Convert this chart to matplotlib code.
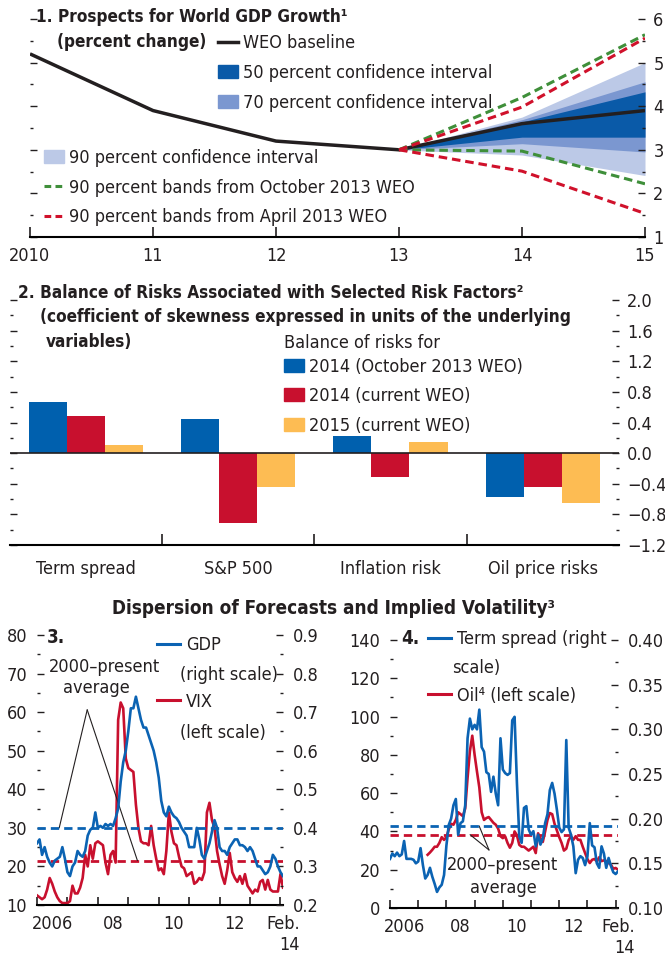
import numpy as np
import matplotlib
matplotlib.use("Agg")
import matplotlib.pyplot as plt
from matplotlib import font_manager
from matplotlib.lines import Line2D
from matplotlib.patches import Patch
from matplotlib.ticker import MultipleLocator

# %% fonts: narrow sans if there is one
installed = {f.name for f in font_manager.fontManager.ttflist}
base_font = 'Liberation Sans Narrow' if 'Liberation Sans Narrow' in installed else 'DejaVu Sans'
plt.rcParams['font.family'] = [base_font, 'DejaVu Sans']
if base_font == 'DejaVu Sans':
    plt.rcParams['font.stretch'] = 'condensed'
plt.rcParams['font.size'] = 13
ink = '#231f20'
plt.rcParams['text.color'] = ink
plt.rcParams['xtick.color'] = ink
plt.rcParams['ytick.color'] = ink
title_size = 12.3

# %% data, panel 1
gdp_years = [2010, 2011, 2012, 2013, 2014, 2015]
year_labels = ['2010', '11', '12', '13', '14', '15']
weo_baseline = [5.2, 3.9, 3.2, 3.0, 3.6, 3.9]
fan_years = [2013, 2014, 2015]
ci50_lo = [3.0, 3.29, 3.29]
ci50_hi = [3.0, 3.64, 4.33]
ci70_lo = [3.0, 3.14, 2.95]
ci70_hi = [3.0, 3.69, 4.56]
ci90_lo = [3.0, 2.88, 2.41]
ci90_hi = [3.0, 3.75, 5.0]
oct13_lo = [3.0, 2.97, 2.22]
oct13_hi = [3.0, 4.2, 5.64]
apr13_lo = [3.0, 2.51, 1.54]
apr13_hi = [3.0, 3.98, 5.56]

# %% data, panel 2
risk_factors = ['Term spread', 'S&P 500', 'Inflation risk', 'Oil price risks']
risk_2014_oct13 = [0.67, 0.45, 0.22, -0.57]
risk_2014_now = [0.49, -0.91, -0.31, -0.44]
risk_2015_now = [0.11, -0.44, 0.14, -0.65]

# %% data, panels 3 and 4 (monthly, Jan 2006 - Feb 2014)
n_months = 98
months = 2006 + np.arange(n_months) / 12.0
vix = [12.5, 12, 11.5, 12, 14, 17, 15.5, 13.5, 12, 11, 10.5, 10.5,
       10.5, 11, 15, 13, 13, 14.5, 17, 23, 20, 25.5, 22, 26,
       26.5, 26, 25.5, 21, 18, 23, 24, 21, 58, 62.5, 61, 48,
       45.5, 45, 44.5, 36, 30, 26.5, 26, 26, 25.5, 30.5, 25.5, 22,
       19, 19.5, 18, 24, 34, 29, 26, 25.5, 22.5, 20, 19.5, 17.5,
       18, 18.5, 15.5, 16, 17, 16.5, 18.5, 34, 36.5, 32, 30, 24,
       20.5, 17.5, 15.5, 19, 23.5, 18.5, 17, 16, 17.5, 15.5, 18, 15,
       14, 13, 14, 13.5, 16, 16.5, 14, 16.5, 14, 13.5, 13.5, 13.5,
       18, 14.5]
gdp_disp = [0.36, 0.37, 0.33, 0.35, 0.325, 0.31, 0.30, 0.315, 0.32, 0.325, 0.35, 0.32,
            0.285, 0.275, 0.30, 0.31, 0.34, 0.33, 0.325, 0.34, 0.38, 0.395, 0.40, 0.44,
            0.40, 0.405, 0.40, 0.41, 0.405, 0.41, 0.405, 0.425, 0.45, 0.52, 0.57, 0.60,
            0.65, 0.71, 0.71, 0.74, 0.71, 0.68, 0.66, 0.66, 0.64, 0.62, 0.60, 0.57,
            0.53, 0.47, 0.44, 0.43, 0.455, 0.44, 0.43, 0.425, 0.415, 0.40, 0.39, 0.38,
            0.35, 0.35, 0.35, 0.40, 0.37, 0.33, 0.32, 0.34, 0.36, 0.39, 0.42, 0.40,
            0.35, 0.34, 0.34, 0.33, 0.35, 0.36, 0.37, 0.37, 0.355, 0.355, 0.35, 0.34,
            0.35, 0.34, 0.32, 0.30, 0.30, 0.29, 0.28, 0.285, 0.30, 0.33, 0.32, 0.30,
            0.285, 0.275]
vix_avg = 21.5
gdp_avg = 0.40

term_spread = [0.155, 0.161, 0.158, 0.162, 0.158, 0.16, 0.175, 0.155, 0.155, 0.155, 0.154, 0.15,
               0.152, 0.167, 0.148, 0.133, 0.137, 0.145, 0.135, 0.127, 0.118, 0.123, 0.126, 0.137,
               0.17, 0.193, 0.20, 0.215, 0.222, 0.182, 0.195, 0.197, 0.215, 0.29, 0.312, 0.30,
               0.305, 0.30, 0.322, 0.28, 0.275, 0.252, 0.25, 0.23, 0.247, 0.228, 0.215, 0.29,
               0.255, 0.251, 0.249, 0.251, 0.31, 0.314, 0.24, 0.18, 0.173, 0.212, 0.214, 0.188,
               0.182, 0.186, 0.169, 0.182, 0.171, 0.178, 0.195, 0.205, 0.232, 0.24, 0.228, 0.21,
               0.19, 0.185, 0.188, 0.288, 0.19, 0.182, 0.169, 0.139, 0.154, 0.158, 0.156, 0.148,
               0.158, 0.195, 0.17, 0.168, 0.15, 0.145, 0.169, 0.161, 0.145, 0.156, 0.147, 0.14,
               0.138, 0.141]
oil_start = 16  # oil series begins May 2007
oil = [27.8, 29, 30.4, 32, 32, 34, 37, 35.6, 37, 41, 44, 43.5, 46, 50, 49, 48,
       52, 68, 82, 90, 80, 71.3, 63, 50, 46, 47, 47.5, 46, 44.5, 43.5, 41.5, 37.5,
       36.5, 37.4, 34, 31.5, 34, 40, 38, 33, 32, 32, 31, 30, 31, 32, 28.7, 39,
       36.5, 34.5, 40, 46, 49.6, 49, 44, 40.5, 37, 34, 30, 31, 35.5, 37.4, 35.6, 37.5,
       35.6, 35.6, 32, 28.7, 25.5, 23.5, 25.2, 25.6, 24.3, 26.5, 24.5, 24.9, 24.5, 23.5,
       22.6, 20.5, 20.9, 20]
term_avg = 0.192
oil_avg = 38.3

# %% colours
c50, c70, c90 = '#0a5aa8', '#7b97d0', '#bcc9e7'
green, red = '#3f8f3a', '#d0112b'
bar_blue, bar_red, bar_yel = '#0060ae', '#c8102e', '#fdbc53'
line_blue, line_red = '#0b63b3', '#c8102e'

W, H = 665, 963


def fx(px):
    return px / W


def fy(py):
    return 1 - py / H


def y_ticks_both(ax, major, minor, label_right=True):
    ax.yaxis.set_major_locator(MultipleLocator(major))
    ax.yaxis.set_minor_locator(MultipleLocator(minor))
    ax.tick_params(axis='y', which='both', direction='in', left=True, right=True,
                   labelleft=not label_right, labelright=label_right, width=1)
    ax.tick_params(axis='y', which='major', length=5, pad=6)
    ax.tick_params(axis='y', which='minor', length=2.5)


fig = plt.figure(figsize=(W / 100, H / 100), dpi=100)

# %% panel 1
ax1 = fig.add_axes([fx(30), fy(237), (645 - 30) / W, (237 - 19) / H])
ax1.fill_between(fan_years, ci90_lo, ci90_hi, color=c90, lw=0)
ax1.fill_between(fan_years, ci70_lo, ci70_hi, color=c70, lw=0)
ax1.fill_between(fan_years, ci50_lo, ci50_hi, color=c50, lw=0)
ax1.plot(gdp_years, weo_baseline, color=ink, lw=2.5, solid_capstyle='butt')
for lo, hi, col in [(oct13_lo, oct13_hi, green), (apr13_lo, apr13_hi, red)]:
    ax1.plot(fan_years, hi, color=col, lw=2.2, dashes=(2.8, 1.6))
    ax1.plot(fan_years, lo, color=col, lw=2.2, dashes=(2.8, 1.6))
ax1.set_xlim(2010, 2015)
ax1.set_ylim(1, 6)
ax1.set_xticks(gdp_years, labels=year_labels)
ax1.tick_params(axis='x', direction='in', length=7, width=1.2, pad=7)
y_ticks_both(ax1, 1, 0.5)
for s in ['top', 'left', 'right']:
    ax1.spines[s].set_visible(False)
ax1.spines['bottom'].set_linewidth(1.5)

leg_kw = dict(bbox_transform=fig.transFigure, frameon=False, borderpad=0, borderaxespad=0,
              handlelength=1.1, handletextpad=0.3, labelspacing=0.64, fontsize=13,
              loc='upper left')
leg1 = ax1.legend([Line2D([], [], color=ink, lw=2.5), Patch(color=c50), Patch(color=c70)],
                  ['WEO baseline', '50 percent confidence interval', '70 percent confidence interval'],
                  bbox_to_anchor=(fx(218), fy(34.5)), **leg_kw)
ax1.add_artist(leg1)
ax1.legend([Patch(color=c90),
            Line2D([], [], color=green, lw=2.2, dashes=(2.2, 1.4)),
            Line2D([], [], color=red, lw=2.2, dashes=(2.2, 1.4))],
           ['90 percent confidence interval', '90 percent bands from October 2013 WEO',
            '90 percent bands from April 2013 WEO'],
           bbox_to_anchor=(fx(44), fy(149)), **leg_kw)

fig.text(fx(36), fy(17), '1. Prospects for World GDP Growth\u00b9', fontweight='bold',
         fontsize=title_size, va='center')
fig.text(fx(57), fy(42), '(percent change)', fontweight='bold', fontsize=title_size, va='center')

# %% panel 2
ax2 = fig.add_axes([fx(9.5), fy(545), (619 - 9.5) / W, (545 - 300) / H])
xc = np.arange(len(risk_factors))
bw = 0.25
ax2.bar(xc - bw, risk_2014_oct13, bw, color=bar_blue, lw=0)
ax2.bar(xc, risk_2014_now, bw, color=bar_red, lw=0)
ax2.bar(xc + bw, risk_2015_now, bw, color=bar_yel, lw=0)
ax2.axhline(0, color=ink, lw=1.2)
ax2.set_xlim(-0.5, len(risk_factors) - 0.5)
ax2.set_ylim(-1.2, 2.0)
ax2.set_xticks(xc, labels=risk_factors)
ax2.set_xticks(xc[:-1] + 0.5, minor=True)
ax2.tick_params(axis='x', which='major', length=0, pad=11)
ax2.tick_params(axis='x', which='minor', direction='in', length=8, width=1.2)
y_ticks_both(ax2, 0.4, 0.2)
for s in ['top', 'left', 'right']:
    ax2.spines[s].set_visible(False)
ax2.spines['bottom'].set_linewidth(1.5)
ax2.legend([Patch(color=bar_blue), Patch(color=bar_red), Patch(color=bar_yel)],
           ['2014 (October 2013 WEO)', '2014 (current WEO)', '2015 (current WEO)'],
           bbox_to_anchor=(fx(284), fy(357.5)), **leg_kw)
fig.text(fx(284), fy(343), 'Balance of risks for', va='center')
fig.text(fx(18), fy(293), '2. Balance of Risks Associated with Selected Risk Factors\u00b2',
         fontweight='bold', fontsize=title_size, va='center')
fig.text(fx(40), fy(317), '(coefficient of skewness expressed in units of the underlying',
         fontweight='bold', fontsize=title_size, va='center')
fig.text(fx(46), fy(342), 'variables)', fontweight='bold', fontsize=title_size, va='center')

# %% panels 3 and 4 shared bits
fig.text(fx(333), fy(608), 'Dispersion of Forecasts and Implied Volatility\u00b3',
         fontweight='bold', fontsize=13.6, ha='center', va='center')
date_lbl_pos = [2006.5, 2008.5, 2010.5, 2012.5, months[-1]]
date_lbls = ['2006', '08', '10', '12', 'Feb.\n14']


def time_axis(ax):
    ax.set_xlim(months[0], months[-1])
    ax.set_xticks(np.arange(2006, 2015))
    ax.set_xticklabels([])
    ax.set_xticks(date_lbl_pos, labels=date_lbls, minor=True)
    ax.tick_params(axis='x', which='major', direction='in', length=6, width=1.2)
    ax.tick_params(axis='x', which='minor', length=0, pad=7)
    ax.get_xticklabels(minor=True)[-1].set_multialignment('right')
    for s in ['top', 'left', 'right']:
        ax.spines[s].set_visible(False)
    ax.spines['bottom'].set_linewidth(1.5)


def side_ticks(ax, major, minor, side):
    ax.yaxis.set_major_locator(MultipleLocator(major))
    ax.yaxis.set_minor_locator(MultipleLocator(minor))
    ax.tick_params(axis='y', which='both', direction='in', width=1,
                   left=(side == 'left'), right=(side == 'right'),
                   labelleft=(side == 'left'), labelright=(side == 'right'))
    ax.tick_params(axis='y', which='major', length=5, pad=7)
    ax.tick_params(axis='y', which='minor', length=2.5)
    for s in ['top', 'left', 'right']:
        ax.spines[s].set_visible(False)


# %% panel 3
ax3 = fig.add_axes([fx(37), fy(905), 246 / W, 270 / H])
ax3r = ax3.twinx()
ax3.set_ylim(10, 80)
ax3r.set_ylim(0.2, 0.9)
ax3.plot(months, vix, color=line_red, lw=1.9)
ax3.axhline(vix_avg, color=line_red, lw=2, dashes=(3, 1.8))
ax3r.plot(months, gdp_disp, color=line_blue, lw=1.9)
ax3r.axhline(gdp_avg, color=line_blue, lw=2, dashes=(3, 1.8))
time_axis(ax3)
side_ticks(ax3, 10, 5, 'left')
side_ticks(ax3r, 0.1, 0.05, 'right')
ax3r.spines['bottom'].set_visible(False)
for tgt in [(2006.73, 30.0), (2009.30, vix_avg)]:
    ax3.annotate('', xy=tgt, xytext=(2007.65, 60.6),
                 arrowprops=dict(arrowstyle='-', lw=0.8, color=ink, shrinkA=0, shrinkB=0))
fig.text(fx(105), fy(667), '2000\u2013present', ha='center', va='center')
fig.text(fx(96), fy(688), 'average', ha='center', va='center')
fig.text(fx(47), fy(637), '3.', fontweight='bold', fontsize=13.5, va='center')
leg3_kw = dict(leg_kw)
leg3_kw.update(labelspacing=2.15, handlelength=1.3)
ax3r.legend([Line2D([], [], color=line_blue, lw=2.2), Line2D([], [], color=line_red, lw=2.2)],
            ['GDP', 'VIX'], bbox_to_anchor=(fx(157), fy(636)), **leg3_kw)
fig.text(fx(180), fy(675), '(right scale)', va='center')
fig.text(fx(180), fy(733), '(left scale)', va='center')

# %% panel 4
ax4 = fig.add_axes([fx(390), fy(908), 228 / W, 268 / H])
ax4r = ax4.twinx()
ax4.set_ylim(0, 140)
ax4r.set_ylim(0.10, 0.40)
ax4.plot(months[oil_start:], oil, color=line_red, lw=1.9)
ax4.axhline(oil_avg, color=line_red, lw=2, dashes=(3, 1.8))
ax4r.plot(months, term_spread, color=line_blue, lw=1.9)
ax4r.axhline(term_avg, color=line_blue, lw=2, dashes=(3, 1.8))
time_axis(ax4)
side_ticks(ax4, 20, 10, 'left')
side_ticks(ax4r, 0.05, 0.025, 'right')
ax4r.yaxis.set_major_formatter(lambda v, p: f'{v:.2f}')
ax4r.spines['bottom'].set_visible(False)
for tgt in [(2009.16, 42.9), (2008.84, oil_avg)]:
    ax4.annotate('', xy=tgt, xytext=(2009.51, 30.3),
                 arrowprops=dict(arrowstyle='-', lw=0.8, color=ink, shrinkA=0, shrinkB=0))
fig.text(fx(503), fy(865), '2000\u2013present', ha='center', va='center')
fig.text(fx(503), fy(888), 'average', ha='center', va='center')
fig.text(fx(401), fy(638), '4.', fontweight='bold', fontsize=13.5, va='center')
ax4r.legend([Line2D([], [], color=line_blue, lw=2.2), Line2D([], [], color=line_red, lw=2.2)],
            ['Term spread (right', 'Oil\u2074 (left scale)'],
            bbox_to_anchor=(fx(428), fy(630)), **dict(leg3_kw, labelspacing=2.15))
fig.text(fx(452), fy(668), 'scale)', va='center')

fig.savefig('out.png', dpi=100, facecolor='white')
